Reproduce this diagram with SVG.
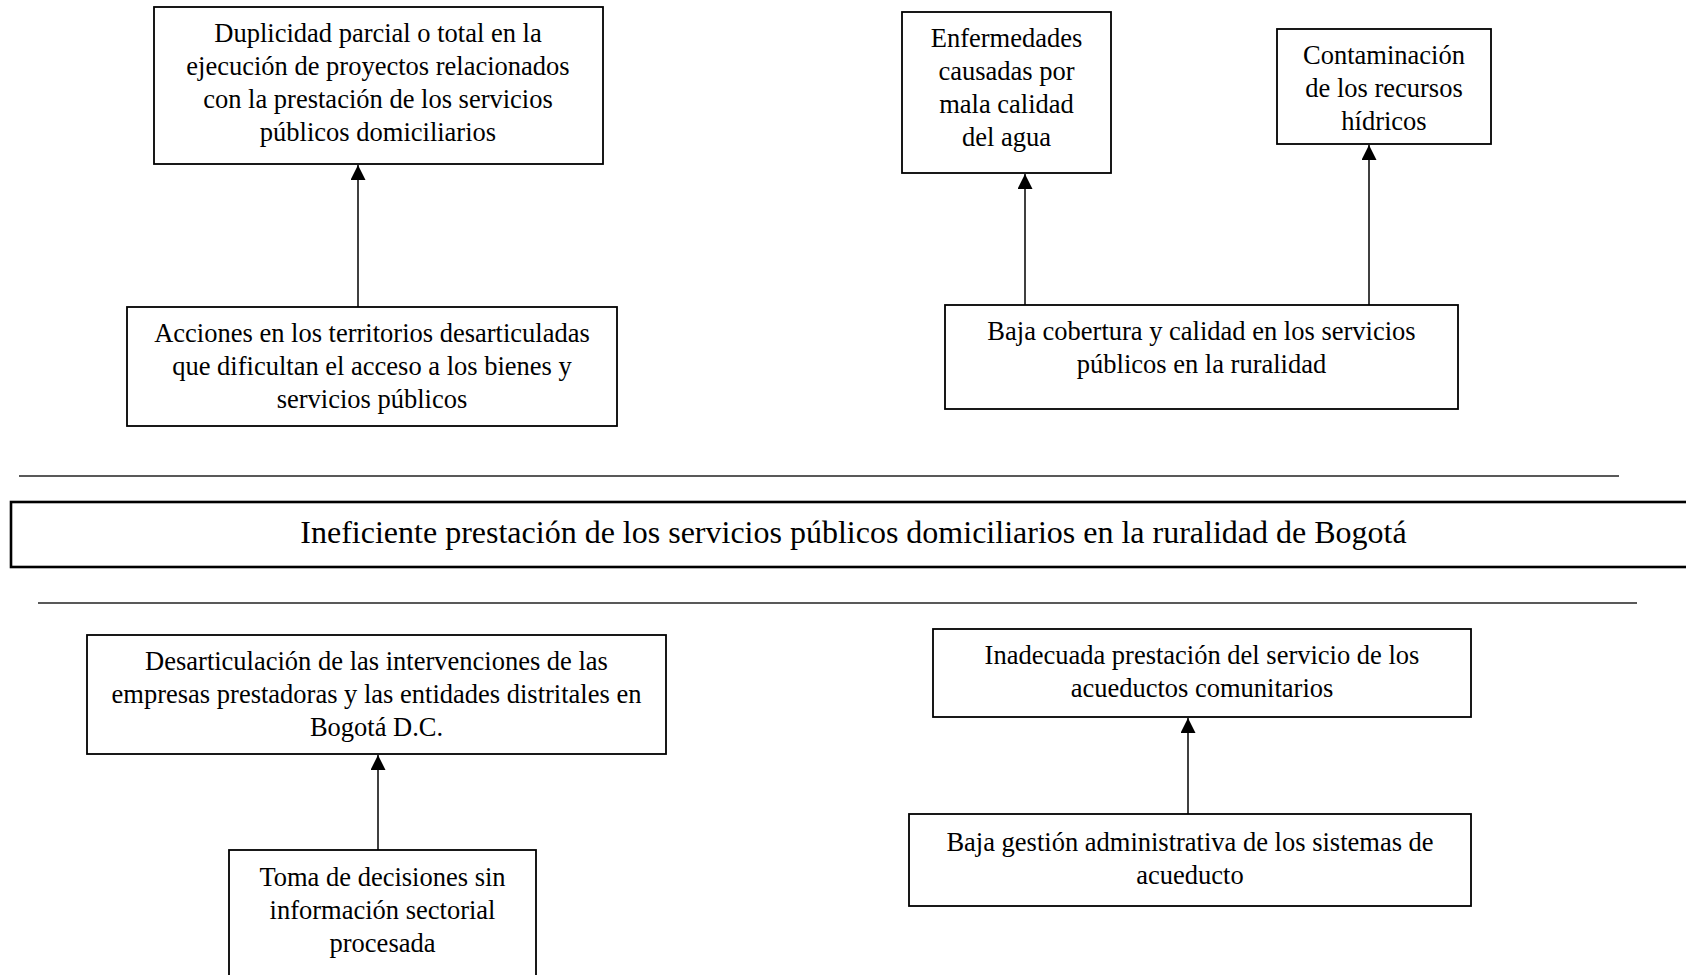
<svg xmlns="http://www.w3.org/2000/svg" width="1686" height="975" viewBox="0 0 1686 975">
<style>
.box{fill:#fff;stroke:#000;stroke-width:1.8}
.main{fill:#fff;stroke:#000;stroke-width:2.6}
.t{font-family:"Liberation Serif","Times New Roman",serif;font-size:26.5px;fill:#000;text-anchor:middle}
.tm{font-family:"Liberation Serif","Times New Roman",serif;font-size:32px;fill:#000;text-anchor:middle}
.con{stroke:#000;stroke-width:1.5;fill:none;marker-end:url(#arr)}
.sep{stroke:#222;stroke-width:1.6}
</style>
<defs>
<marker id="arr" markerUnits="userSpaceOnUse" markerWidth="15" markerHeight="15" viewBox="0 0 15 15" refX="15" refY="7.5" orient="auto">
<path d="M0,0 L15,7.5 L0,15 Z" fill="#000"/>
</marker>
</defs>
<rect width="1686" height="975" fill="#fff"/>
<g id="connectors">
<line class="con" x1="358" y1="307" x2="358" y2="165"/>
<line class="con" x1="1025" y1="307" x2="1025" y2="174"/>
<line class="con" x1="1369" y1="305" x2="1369" y2="145"/>
<line class="con" x1="378" y1="850" x2="378" y2="755"/>
<line class="con" x1="1188" y1="814" x2="1188" y2="718"/>
</g>
<g id="separators">
<line class="sep" x1="19" y1="476" x2="1619" y2="476"/>
<line class="sep" x1="38" y1="603" x2="1637" y2="603"/>
</g>
<g id="n-duplicidad">
<rect class="box" x="154" y="7" width="449" height="157"/>
<text class="t" x="378" y="42">Duplicidad parcial o total en la</text>
<text class="t" x="378" y="75">ejecución de proyectos relacionados</text>
<text class="t" x="378" y="108">con la prestación de los servicios</text>
<text class="t" x="378" y="141">públicos domiciliarios</text>
</g>
<g id="n-acciones">
<rect class="box" x="127" y="307" width="490" height="119"/>
<text class="t" x="372" y="342">Acciones en los territorios desarticuladas</text>
<text class="t" x="372" y="375">que dificultan el acceso a los bienes y</text>
<text class="t" x="372" y="408">servicios públicos</text>
</g>
<g id="n-enfermedades">
<rect class="box" x="902" y="12" width="209" height="161"/>
<text class="t" x="1006.5" y="47">Enfermedades</text>
<text class="t" x="1006.5" y="80">causadas por</text>
<text class="t" x="1006.5" y="113">mala calidad</text>
<text class="t" x="1006.5" y="146">del agua</text>
</g>
<g id="n-contaminacion">
<rect class="box" x="1277" y="29" width="214" height="115"/>
<text class="t" x="1384" y="64">Contaminación</text>
<text class="t" x="1384" y="97">de los recursos</text>
<text class="t" x="1384" y="130">hídricos</text>
</g>
<g id="n-baja-cobertura">
<rect class="box" x="945" y="305" width="513" height="104"/>
<text class="t" x="1201.5" y="340">Baja cobertura y calidad en los servicios</text>
<text class="t" x="1201.5" y="373">públicos en la ruralidad</text>
</g>
<g id="n-problema">
<rect class="main" x="11" y="502" width="1690" height="65"/>
<text class="tm" x="853.5" y="543">Ineficiente prestación de los servicios públicos domiciliarios en la ruralidad de Bogotá</text>
</g>
<g id="n-desarticulacion">
<rect class="box" x="87" y="635" width="579" height="119"/>
<text class="t" x="376.5" y="670">Desarticulación de las intervenciones de las</text>
<text class="t" x="376.5" y="703">empresas prestadoras y las entidades distritales en</text>
<text class="t" x="376.5" y="736">Bogotá D.C.</text>
</g>
<g id="n-toma">
<rect class="box" x="229" y="850" width="307" height="140"/>
<text class="t" x="382.5" y="886">Toma de decisiones sin</text>
<text class="t" x="382.5" y="919">información sectorial</text>
<text class="t" x="382.5" y="952">procesada</text>
</g>
<g id="n-inadecuada">
<rect class="box" x="933" y="629" width="538" height="88"/>
<text class="t" x="1202" y="664">Inadecuada prestación del servicio de los</text>
<text class="t" x="1202" y="697">acueductos comunitarios</text>
</g>
<g id="n-baja-gestion">
<rect class="box" x="909" y="814" width="562" height="92"/>
<text class="t" x="1190" y="851">Baja gestión administrativa de los sistemas de</text>
<text class="t" x="1190" y="884">acueducto</text>
</g>
</svg>
